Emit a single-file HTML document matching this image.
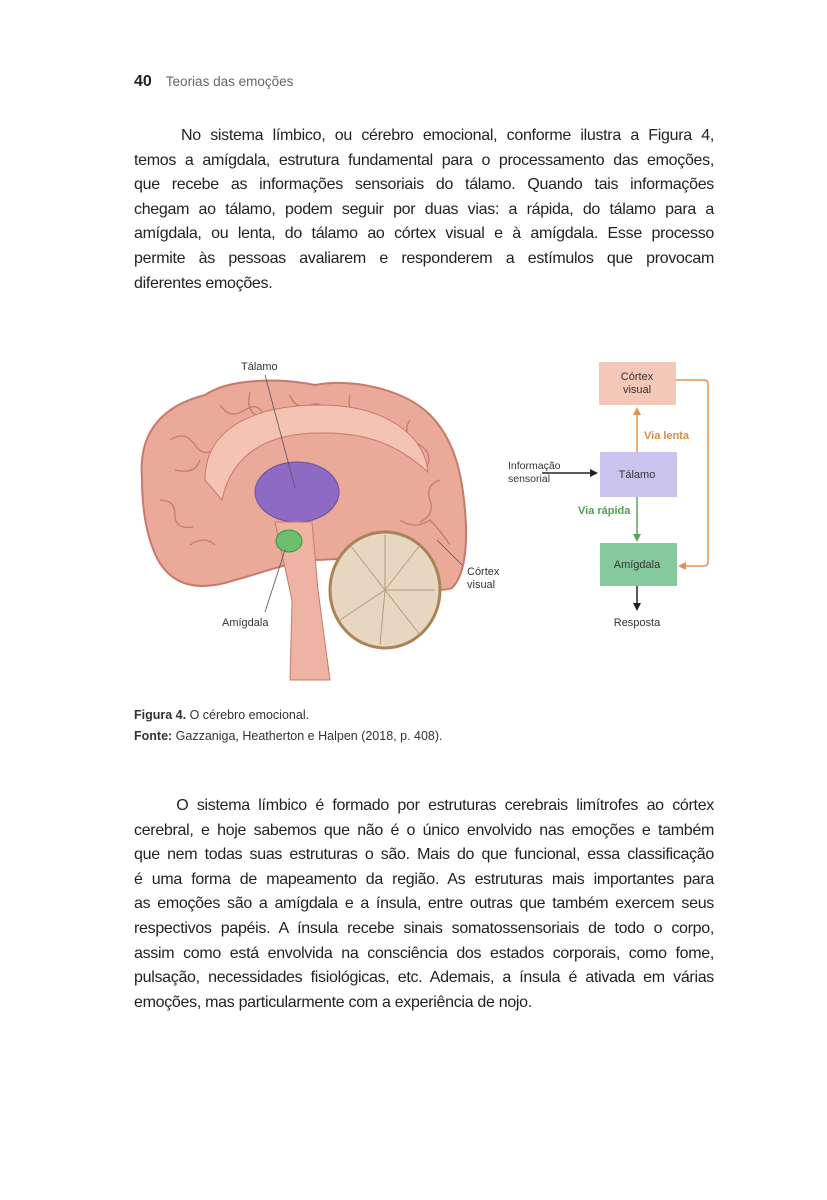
<!DOCTYPE html>
<html><head><meta charset="utf-8"><style>
body{margin:0;width:827px;height:1200px;background:#fff;position:relative;font-family:"Liberation Sans",sans-serif;color:#222;overflow:hidden}
.hd{position:absolute;top:73px;left:134px;font-size:15px}
.hd b{font-size:16px;margin-right:14px}
.hd span{color:#666;font-size:13.5px}
.p{position:absolute;left:134px;width:580px;font-size:16px;letter-spacing:-0.3px}
.p div{height:24.6px;line-height:24.6px;text-align:justify;text-align-last:justify;white-space:nowrap}
.p div.l{text-align-last:left}
.cap{position:absolute;left:134px;font-size:12.5px;color:#333}
</style></head><body>
<div class="hd"><b>40</b><span>Teorias das emoções</span></div>
<div class="p" style="top:124px">
<div>&nbsp;&nbsp;&nbsp;&nbsp;&nbsp;No sistema límbico, ou cérebro emocional, conforme ilustra a Figura 4,</div>
<div>temos a amígdala, estrutura fundamental para o processamento das emoções,</div>
<div>que recebe as informações sensoriais do tálamo. Quando tais informações</div>
<div>chegam ao tálamo, podem seguir por duas vias: a rápida, do tálamo para a</div>
<div>amígdala, ou lenta, do tálamo ao córtex visual e à amígdala. Esse processo</div>
<div>permite às pessoas avaliarem e responderem a estímulos que provocam</div>
<div class="l">diferentes emoções.</div>
</div>
<svg style="position:absolute;left:0;top:0" width="827" height="700" font-family="Liberation Sans, sans-serif">
<!-- brain -->
<path d="M142,478 C138,430 165,405 205,395 C230,378 280,378 315,385 C355,378 405,390 430,415 C455,440 462,475 465,510 C468,545 465,575 452,588 C435,595 420,580 400,560 C370,555 340,560 310,560 C280,565 255,575 235,580 C205,590 175,590 158,560 C145,535 142,505 142,478Z" fill="#eba99a" stroke="#c77a6c" stroke-width="2"/>
<g fill="none" stroke="#c77a6c" stroke-width="1.3">
<path d="M170,440 q15,-10 25,5 q10,15 25,0"/><path d="M220,405 q10,15 25,5 q15,-10 20,10"/><path d="M290,395 q5,15 20,10 q15,-5 18,12"/><path d="M350,395 q-5,18 15,20 q18,0 15,18"/><path d="M410,420 q-10,15 10,25 q15,10 5,25"/><path d="M440,480 q-15,5 -10,20 q5,15 -10,22"/><path d="M160,500 q15,0 15,15 q0,15 18,12"/><path d="M190,545 q15,-10 25,0"/><path d="M400,520 q15,10 30,0 q10,10 20,25"/><path d="M250,392 q-5,20 10,25"/><path d="M175,470 q20,5 25,-10"/></g>
<path d="M205,480 C205,425 260,405 320,405 C385,405 425,435 428,472 C400,447 370,432 320,433 C270,433 232,452 222,500Z" fill="#f4c3b2" stroke="#c77a6c"/>
<ellipse cx="297" cy="492" rx="42" ry="30" fill="#8d6bc4" stroke="#6c4ea0"/>
<path d="M275,522 L312,522 L318,590 L330,680 L290,680 L292,600Z" fill="#eeb3a3" stroke="#c77a6c"/>
<ellipse cx="289" cy="541" rx="13" ry="11" fill="#6cbf6c" stroke="#3f8f3f"/>
<ellipse cx="385" cy="590" rx="55" ry="58" fill="#e8d7c0" stroke="#a98355" stroke-width="3"/>
<g stroke="#b89a78" stroke-width="1"><line x1="385" y1="590" x2="350" y2="545"/><line x1="385" y1="590" x2="385" y2="535"/><line x1="385" y1="590" x2="420" y2="545"/><line x1="385" y1="590" x2="435" y2="590"/><line x1="385" y1="590" x2="420" y2="635"/><line x1="385" y1="590" x2="380" y2="645"/><line x1="385" y1="590" x2="340" y2="620"/></g>
<g stroke="#555" stroke-width="0.8"><line x1="265" y1="375" x2="295" y2="488"/><line x1="285" y1="550" x2="265" y2="612"/><line x1="437" y1="540" x2="462" y2="565"/></g>
<g font-size="11" fill="#333"><text x="241" y="370">Tálamo</text><text x="222" y="626">Amígdala</text><text x="467" y="575">Córtex</text><text x="467" y="588">visual</text></g>
<!-- flow diagram -->
<rect x="599" y="362" width="77" height="43" fill="#f3c8b8"/>
<rect x="600" y="452" width="77" height="45" fill="#c9c3ee"/>
<rect x="600" y="543" width="77" height="43" fill="#86c99c"/>
<g font-size="11" fill="#333" text-anchor="middle"><text x="637" y="380">Córtex</text><text x="637" y="393">visual</text><text x="637" y="478">Tálamo</text><text x="637" y="568">Amígdala</text><text x="637" y="626">Resposta</text></g>
<text x="508" y="469" font-size="10.5" fill="#333">Informação</text><text x="508" y="482" font-size="10.5" fill="#333">sensorial</text>
<g fill="none" stroke-width="1.5"><path d="M676,380 H704 Q708,380 708,384 V562 Q708,566 704,566 H682" stroke="#e5924a"/><path d="M637,452 V412" stroke="#e5924a"/><path d="M637,497 V536" stroke="#58a85a"/><path d="M637,586 V605" stroke="#222"/><path d="M542,473 H592" stroke="#222"/></g>
<path d="M678,566 L686,562 L686,570Z M637,407 L633,415 L641,415Z" fill="#e5924a"/>
<path d="M637,542 L633,534 L641,534Z" fill="#58a85a"/>
<path d="M637,611 L633,603 L641,603Z M598,473 L590,469 L590,477Z" fill="#222"/>
<text x="644" y="439" font-size="11" font-weight="bold" fill="#e08a3f">Via lenta</text>
<text x="578" y="514" font-size="11" font-weight="bold" fill="#4f9f4f">Via rápida</text>
</svg>
<div class="cap" style="top:708px"><b>Figura 4.</b> O cérebro emocional.</div>
<div class="cap" style="top:729px"><b>Fonte:</b> Gazzaniga, Heatherton e Halpen (2018, p. 408).</div>
<div class="p" style="top:794px">
<div>&nbsp;&nbsp;&nbsp;&nbsp;&nbsp;O sistema límbico é formado por estruturas cerebrais limítrofes ao córtex</div>
<div>cerebral, e hoje sabemos que não é o único envolvido nas emoções e também</div>
<div>que nem todas suas estruturas o são. Mais do que funcional, essa classificação</div>
<div>é uma forma de mapeamento da região. As estruturas mais importantes para</div>
<div>as emoções são a amígdala e a ínsula, entre outras que também exercem seus</div>
<div>respectivos papéis. A ínsula recebe sinais somatossensoriais de todo o corpo,</div>
<div>assim como está envolvida na consciência dos estados corporais, como fome,</div>
<div>pulsação, necessidades fisiológicas, etc. Ademais, a ínsula é ativada em várias</div>
<div class="l">emoções, mas particularmente com a experiência de nojo.</div>
</div>
</body></html>
